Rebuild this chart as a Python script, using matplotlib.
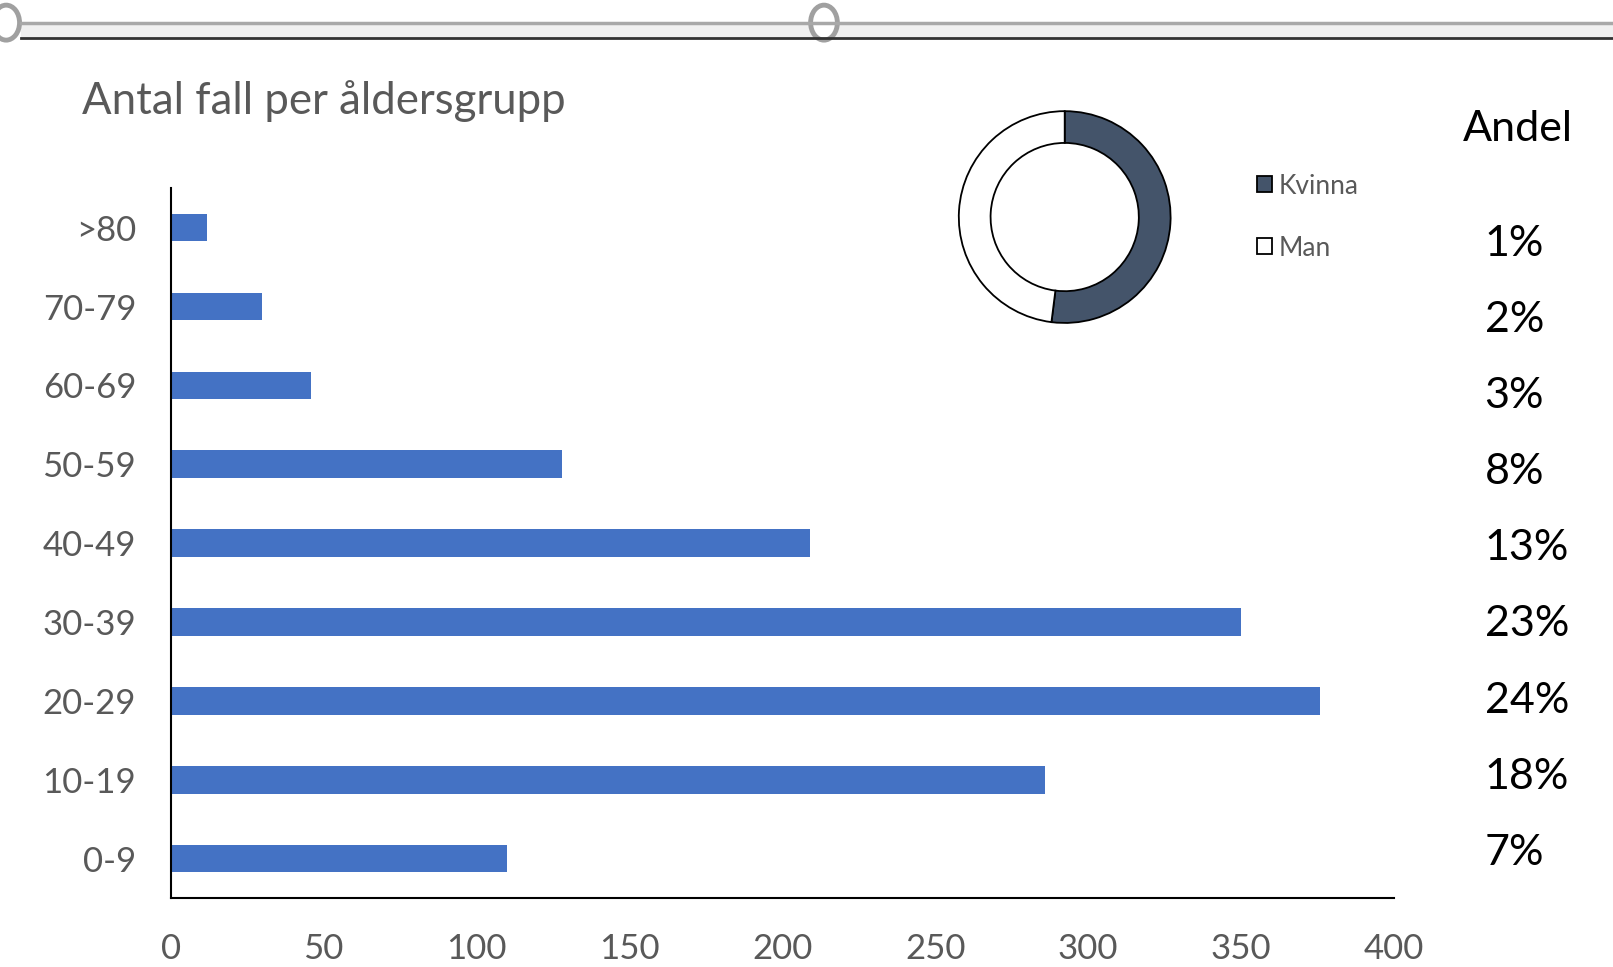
import matplotlib.pyplot as plt
from matplotlib.patches import Ellipse, Rectangle
from matplotlib.lines import Line2D

age_groups = ["0-9", "10-19", "20-29", "30-39", "40-49", "50-59", "60-69", "70-79", ">80"]
cases = [110, 286, 376, 350, 209, 128, 46, 30, 12]
shares = ["7%", "18%", "24%", "23%", "13%", "8%", "3%", "2%", "1%"]

sex_labels = ["Kvinna", "Man"]
sex_shares = [52, 48]

plt.rcParams["font.family"] = ["Lato", "DejaVu Sans"]

fig = plt.figure(figsize=(16.13, 9.67), dpi=100)
W, H = 1613, 967
S = 1613 / 1568  # layout measured on a 1568 px wide view


def fx(x):
    return x * S / W


def fy(y):
    return 1 - y * S / H


# slider decoration along the top
fig.patches.append(Rectangle((fx(20), fy(37)), 1 - fx(20), 15 * S / H, transform=fig.transFigure,
                             facecolor="#f0f0f0", edgecolor="none"))
fig.lines.append(Line2D([fx(20), 1], [fy(22)] * 2, transform=fig.transFigure, color="#a8a8a8", lw=2.5))
fig.lines.append(Line2D([fx(20), 1], [fy(37)] * 2, transform=fig.transFigure, color="#333333", lw=2))
for cx in (6, 801):
    fig.patches.append(Ellipse((fx(cx), fy(22)), 26 * S / W, 34 * S / H, transform=fig.transFigure,
                               facecolor="white", edgecolor="#a0a0a0", lw=3.5))

# bar chart
ax = fig.add_axes([fx(166), fy(873), fx(1355) - fx(166), fy(183) - fy(873)])
ax.barh(range(len(age_groups)), cases, height=0.35, color="#4472c4")
ax.set_xlim(0, 400)
ax.set_ylim(-0.5, len(age_groups) - 0.5)
ax.set_yticks(range(len(age_groups)))
ax.set_yticklabels(age_groups)
ax.set_xticks(range(0, 401, 50))
for s in ("top", "right"):
    ax.spines[s].set_visible(False)
for s in ("left", "bottom"):
    ax.spines[s].set_color("black")
    ax.spines[s].set_linewidth(1.5)
ax.tick_params(axis="both", length=0, labelsize=25, labelcolor="#595959")
ax.tick_params(axis="y", pad=25)
ax.tick_params(axis="x", pad=25)

fig.text(fx(80), fy(98), "Antal fall per åldersgrupp", fontsize=31.5, color="#595959", va="center")

# share column (slightly tighter spacing than the bars)
tax = fig.add_axes([fx(1440), fy(866), fx(1600) - fx(1440), fy(200) - fy(866)])
tax.set_xlim(0, 1)
tax.set_ylim(-0.5, len(shares) - 0.5)
tax.axis("off")
for i, s in enumerate(shares):
    tax.text(0.02, i, s, fontsize=31, color="black", va="center", ha="left")
fig.text(fx(1422), fy(125), "Andel", fontsize=31, color="black", va="center", ha="left")

# donut
r = 105
pax = fig.add_axes([fx(1035 - r), fy(211 + r), 2 * r * S / W, 2 * r * S / H])
wedges, _ = pax.pie(sex_shares, colors=["#44546a", "white"], startangle=90, counterclock=False,
                    radius=1, wedgeprops=dict(width=0.3, edgecolor="black", linewidth=1.3))
pax.set_xlim(-1.02, 1.02)
pax.set_ylim(-1.02, 1.02)
pax.set_aspect("equal")
pax.axis("off")

leg = fig.legend(wedges, sex_labels, loc="center left", bbox_to_anchor=(fx(1199), fy(211)),
                 frameon=False, fontsize=19, labelcolor="#595959", handlelength=0.55, handleheight=0.55,
                 handletextpad=0.25, labelspacing=1.4)

fig.savefig("out.png", dpi=100)
